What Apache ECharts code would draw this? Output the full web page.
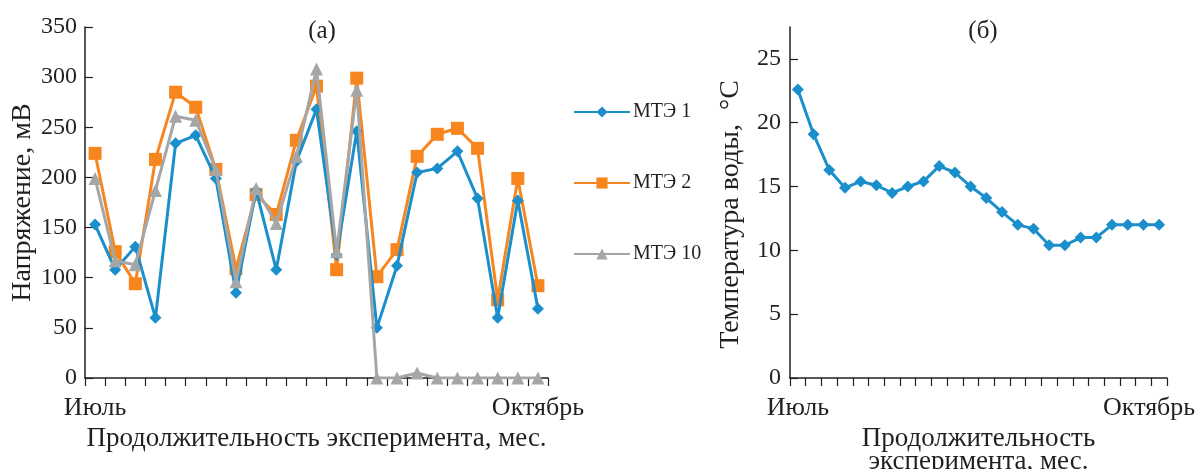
<!DOCTYPE html>
<html>
<head>
<meta charset="utf-8">
<script src="https://cdn.jsdelivr.net/npm/echarts@6/dist/echarts.min.js"></script>
<style>
  html, body { margin: 0; padding: 0; background: #fff; }
  #chart { width: 1204px; height: 469px; }
</style>
</head>
<body>
<div id="chart"></div>
<script>
// (а) напряжение МТЭ, мВ
var catsA = ['Июль', '', '', '', '', '', '', '', '', '', '', '', '', '', '', '', '', '', '', '', '', '', 'Октябрь'];
var mte1 = [153, 108, 131, 60, 234, 242, 199, 85, 187, 108, 216, 268, 123, 246, 50, 112, 205, 209, 226, 179, 60, 177, 69];
var mte2 = [224, 126, 94, 218, 285, 270, 208, 109, 183, 163, 237, 291, 108, 299, 101, 128, 221, 243, 249, 229, 78, 199, 92];
var mte10 = [199, 117, 113, 187, 261, 257, 208, 96, 189, 154, 221, 308, 126, 287, 0, 0, 5, 0, 0, 0, 0, 0, 0];

// (б) температура воды, °С
var catsB = ['Июль', '', '', '', '', '', '', '', '', '', '', '', '', '', '', '', '', '', '', '', '', '', '', 'Октябрь'];
var temp = [22.6, 19.1, 16.3, 14.9, 15.4, 15.1, 14.5, 15.0, 15.4, 16.6, 16.1, 15.0, 14.1, 13.0, 12.0, 11.7, 10.4, 10.4, 11.0, 11.0, 12.0, 12.0, 12.0, 12.0];

var tempTicks = [0, 5, 10, 15, 20, 25];

var FONT = '"Liberation Serif", "DejaVu Serif", serif';
var INK = '#231f20';
var BLUE = '#1b8fcb';
var ORANGE = '#f7861f';
var GRAY = '#a6a6a6';

var chart = echarts.init(document.getElementById('chart'));

function xAxisCfg(idx, cats, name, gap) {
    return {
        type: 'category',
        gridIndex: idx,
        data: cats.map(function (c, i) {
            if (i == cats.length - 1 && idx == 1) {
                return { value: c, textStyle: { padding: [0, 20, 0, 0] } };
            }
            return c;
        }),
        boundaryGap: true,
        name: name,
        nameLocation: 'middle',
        nameGap: gap,
        nameTextStyle: { fontFamily: FONT, fontSize: 27, color: INK, lineHeight: 23 },
        axisLine: { lineStyle: { color: INK, width: 1.5 } },
        axisTick: { show: true, interval: 0, length: 8, lineStyle: { color: INK, width: 1.2 } },
        axisLabel: { interval: 0, margin: 17, fontFamily: FONT, fontSize: 26, color: INK },
        splitLine: { show: false }
    };
}

var option = {
    backgroundColor: '#fff',
    animation: false,
    title: [{
        text: '(а)',
        left: 317, top: 14,
        textAlign: 'center',
        textStyle: { fontFamily: FONT, fontSize: 25, fontWeight: 'normal', color: INK }
    }, {
        text: '(б)',
        left: 978, top: 14,
        textAlign: 'center',
        textStyle: { fontFamily: FONT, fontSize: 25, fontWeight: 'normal', color: INK }
    }],
    legend: {
        orient: 'vertical',
        left: 573,
        top: 102,
        padding: 0,
        itemGap: 51,
        itemWidth: 56,
        itemHeight: 14,
        data: ['МТЭ 1', 'МТЭ 2', 'МТЭ 10'],
        textStyle: { fontFamily: FONT, fontSize: 20, color: INK, padding: [0, 0, 0, -2] }
    },
    grid: [
        { left: 85, right: 656, top: 27, bottom: 91, outerBoundsMode: 'none' },
        { left: 790, right: 37, top: 27, bottom: 91, outerBoundsMode: 'none' }
    ],
    xAxis: [
        xAxisCfg(0, catsA, 'Продолжительность эксперимента, мес.', 45),
        xAxisCfg(1, catsB, 'Продолжительность\nэксперимента, мес.', 46)
    ],
    yAxis: [{
        type: 'value',
        gridIndex: 0,
        min: 0, max: 350, interval: 50,
        name: 'Напряжение, мВ',
        nameLocation: 'middle',
        nameGap: 46,
        nameTextStyle: { fontFamily: FONT, fontSize: 28, color: INK },
        axisLine: { show: true, lineStyle: { color: INK, width: 1.5 } },
        axisTick: { show: true, inside: true, length: 8, lineStyle: { color: INK, width: 1.2 } },
        axisLabel: { margin: 8, fontFamily: FONT, fontSize: 24, color: INK },
        splitLine: { show: false }
    }, {
        type: 'value',
        gridIndex: 1,
        min: 0, max: 27.5,
        name: 'Температура воды,  °С',
        nameLocation: 'middle',
        nameGap: 45,
        nameTextStyle: { fontFamily: FONT, fontSize: 28, color: INK, padding: [0, 24, 0, 0] },
        axisLine: { show: true, lineStyle: { color: INK, width: 1.5 } },
        axisTick: { show: true, inside: true, length: 8, customValues: tempTicks, lineStyle: { color: INK, width: 1.2 } },
        axisLabel: { margin: 9, customValues: tempTicks, fontFamily: FONT, fontSize: 24, color: INK },
        splitLine: { show: false }
    }],
    series: [{
        name: 'МТЭ 1',
        type: 'line',
        xAxisIndex: 0, yAxisIndex: 0,
        data: mte1,
        symbol: 'diamond',
        symbolSize: 12,
        itemStyle: { color: BLUE },
        lineStyle: { color: BLUE, width: 3 },
        z: 4
    }, {
        name: 'МТЭ 2',
        type: 'line',
        xAxisIndex: 0, yAxisIndex: 0,
        data: mte2,
        symbol: 'rect',
        symbolSize: 13,
        itemStyle: { color: ORANGE },
        lineStyle: { color: ORANGE, width: 3 },
        z: 3
    }, {
        name: 'МТЭ 10',
        type: 'line',
        xAxisIndex: 0, yAxisIndex: 0,
        data: mte10,
        symbol: 'triangle',
        symbolSize: 13,
        itemStyle: { color: GRAY },
        lineStyle: { color: GRAY, width: 3 },
        z: 5
    }, {
        name: 'temp',
        type: 'line',
        xAxisIndex: 1, yAxisIndex: 1,
        data: temp,
        symbol: 'diamond',
        symbolSize: 12,
        itemStyle: { color: BLUE },
        lineStyle: { color: BLUE, width: 3 }
    }]
};

chart.setOption(option);
window.addEventListener('resize', function () {
    chart.resize();
});
</script>
</body>
</html>
